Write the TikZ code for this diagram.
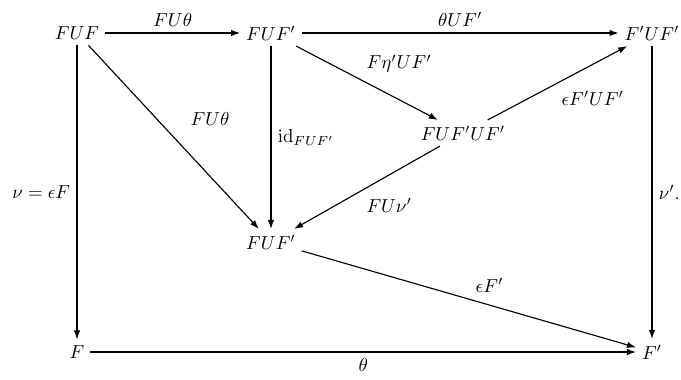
\documentclass[tikz,border=0pt]{standalone}
\usepackage{amsmath}
\usetikzlibrary{positioning, calc, arrows.meta}

\tikzset{
    obj/.style={inner sep=3pt},
    map/.style={-{Latex[length=1.7mm, width=1.2mm]}, line width=0.6pt},
    lbl/.style={font=\normalsize}
}

\begin{document}
\begin{tikzpicture}[x=0.0187cm, y=-0.0187cm]
    \useasboundingbox (0,0) rectangle (681,379);

    % Objects
    \node[obj] (fuf)    at (77,33)   {$FUF$};
    \node[obj] (fufp)   at (271,33)  {$FUF'$};
    \node[obj] (fpufp)  at (652,33)  {$F'UF'$};
    \node[obj] (fufpufp) at (463,133) {$FUF'UF'$};
    \node[obj] (fufpm)  at (271,242) {$FUF'$};
    \node[obj] (f)      at (77,352)  {$F$};
    \node[obj] (fp)     at (652,352) {$F'$};

    % Top row
    \draw[map] (fuf) -- node[above, lbl] {$FU\theta$} (fufp);
    \draw[map] (fufp) -- node[above, lbl] {$\theta UF'$} (fpufp);

    % Middle
    \draw[map] (fuf) -- node[above right, lbl, pos=0.5, xshift=0.19cm, yshift=0.1cm] {$FU\theta$} (fufpm);
    \draw[map] (fufp) -- node[right, lbl] {$\mathrm{id}_{FUF'}$} (fufpm);
    \draw[map] (fufp) -- node[above right, lbl, pos=0.45] {$F\eta' UF'$} (fufpufp);
    \draw[map] (fufpufp) -- node[below right, lbl, pos=0.48] {$\epsilon F' UF'$} (fpufp);
    \draw[map] (fufpufp) -- node[below right, lbl, pos=0.55] {$FU\nu'$} (fufpm);
    \draw[map] (fufpm) -- node[above right, lbl, pos=0.5] {$\epsilon F'$} (fp);

    % Sides and bottom
    \draw[map] (fuf) -- node[left, lbl] {$\nu = \epsilon F$} (f);
    \draw[map] (fpufp) -- node[right, lbl] {$\nu'.$} (fp);
    \draw[map] (f) -- node[below, lbl] {$\theta$} (fp);
\end{tikzpicture}
\end{document}
